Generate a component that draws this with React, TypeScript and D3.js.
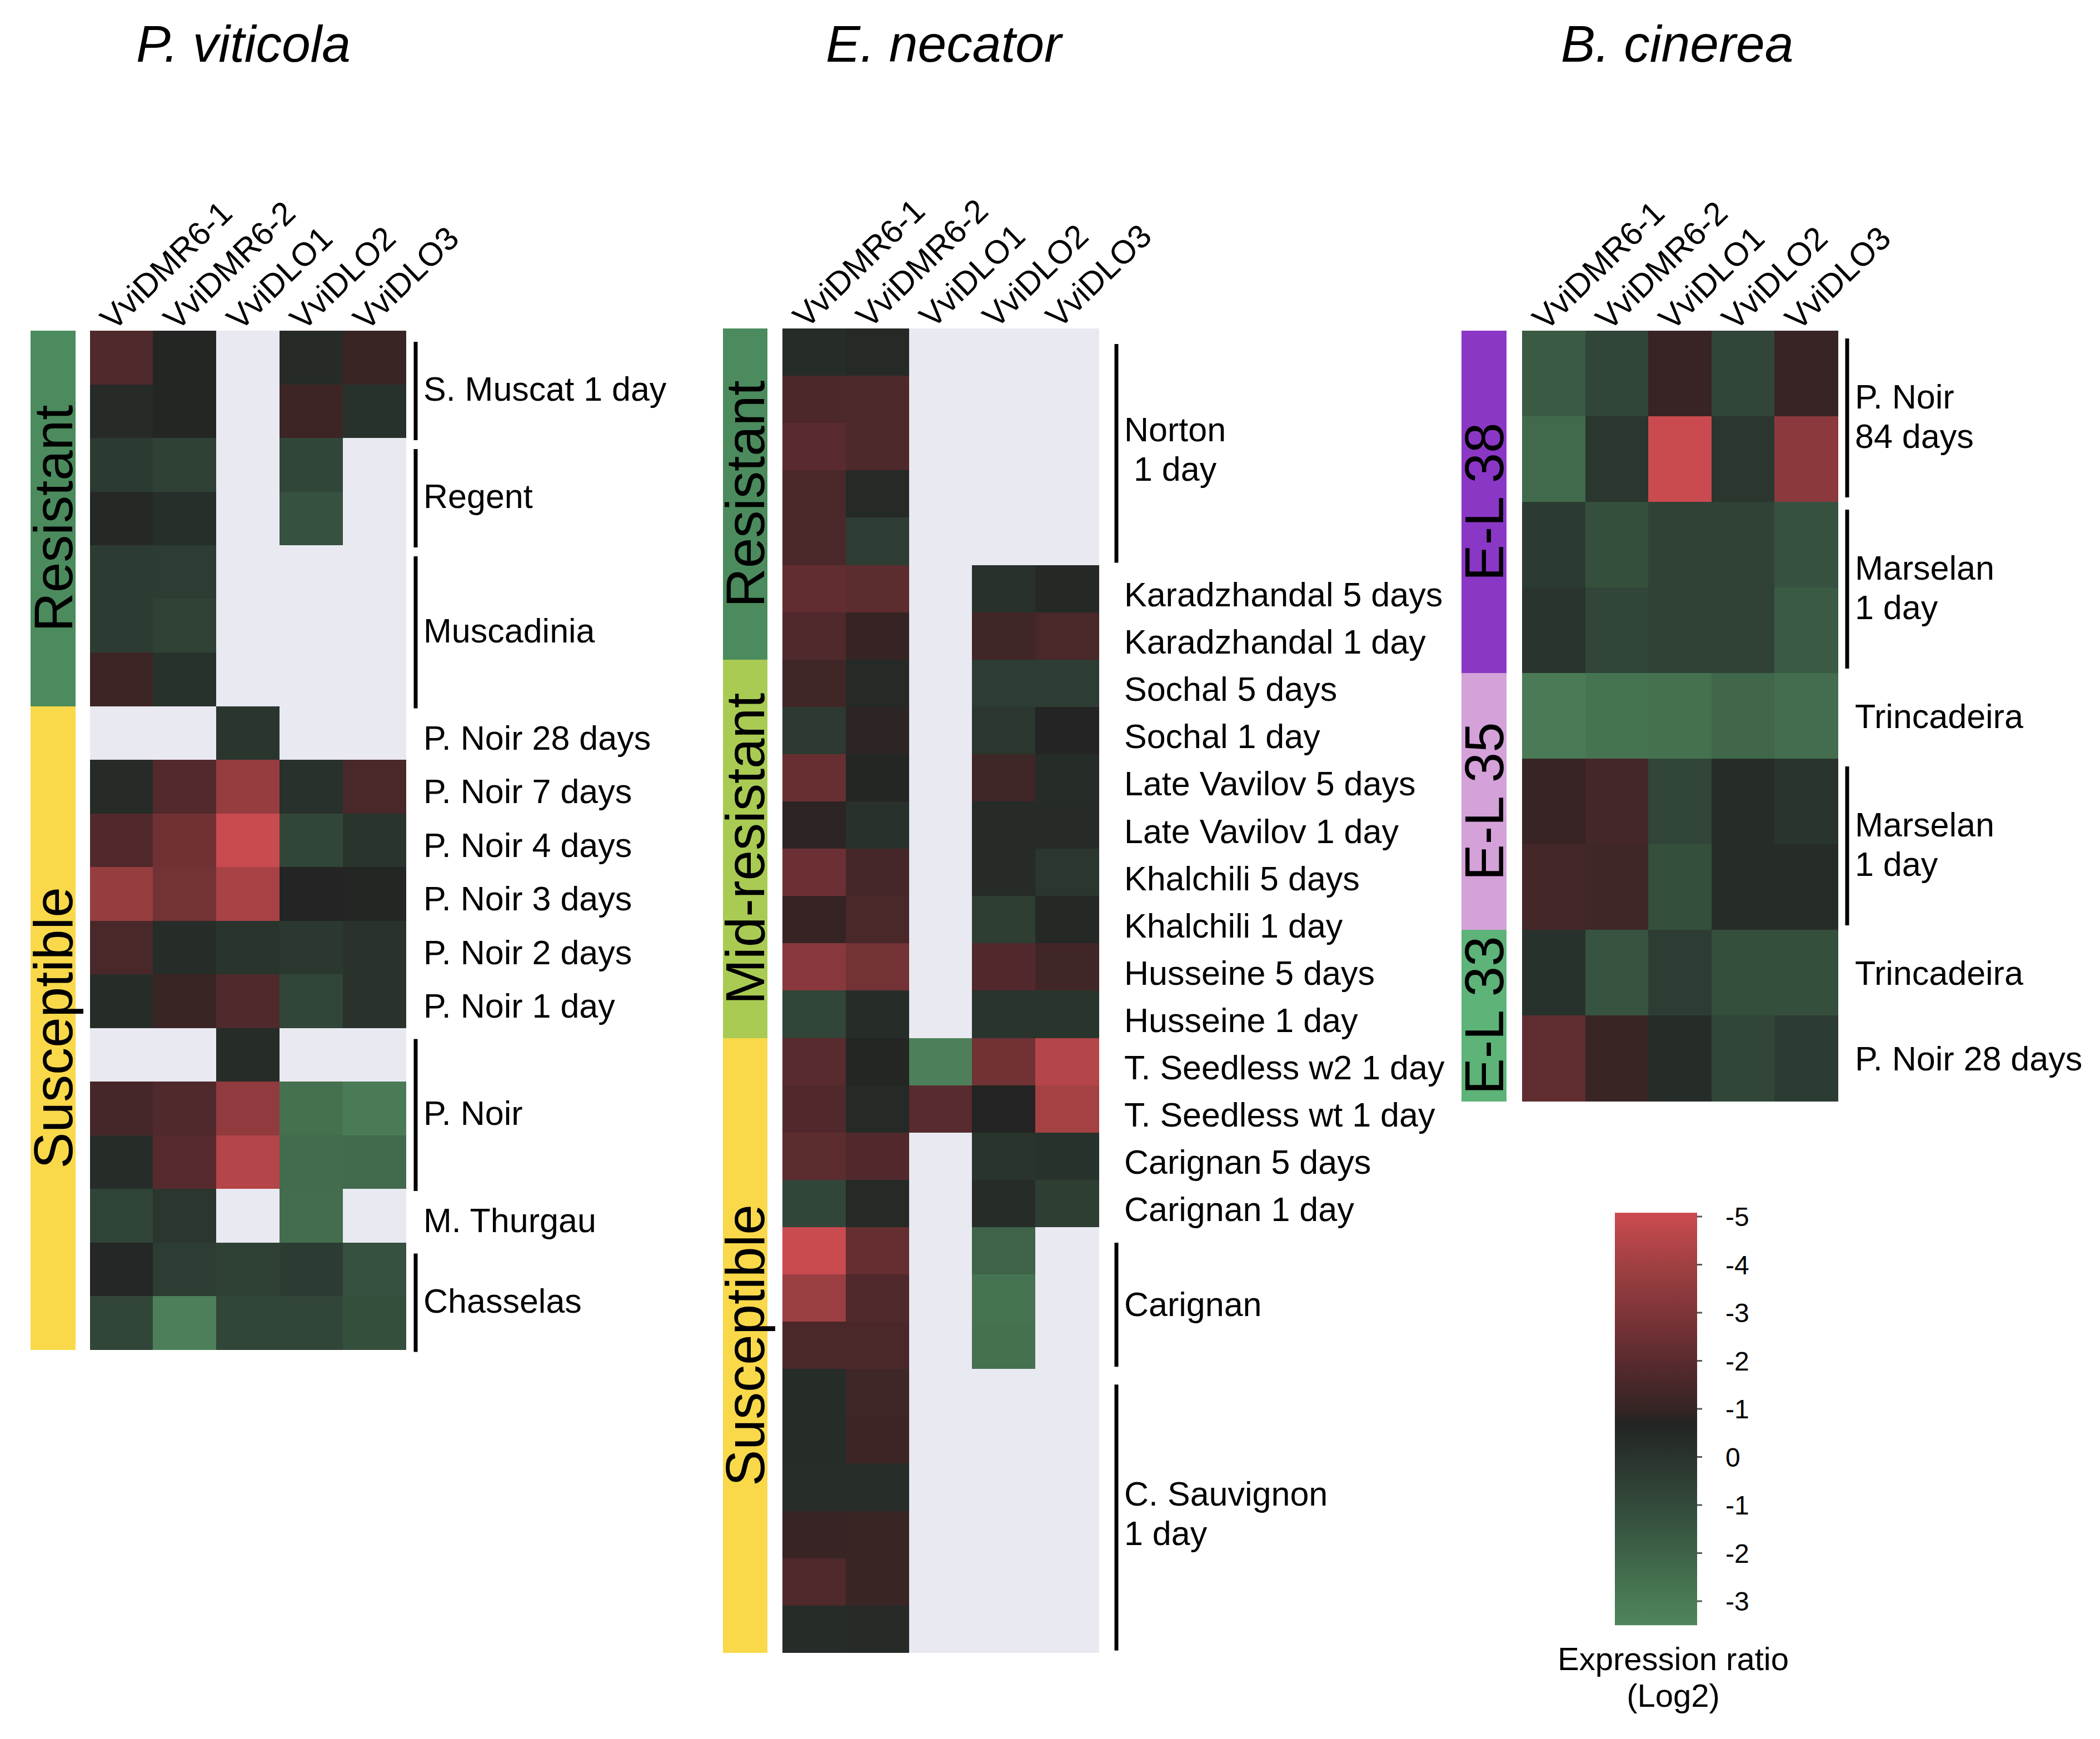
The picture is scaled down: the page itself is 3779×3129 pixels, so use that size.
import React from "react";
import * as d3 from "d3";

// ---------------- DATA ----------------
const genes = ["VviDMR6-1", "VviDMR6-2", "VviDLO1", "VviDLO2", "VviDLO3"];

// P. viticola (19 rows)
const pvDMR61 = [1.7, 0.4, -0.3, 0.5, -0.35, -0.35, 1.2, null, 0.4, 1.75, 3.7, 1.5, 0.3, null, 1.45, 0.3, -0.7, 0.55, -0.8];
const pvDMR62 = [0.6, 0.6, -0.6, 0.2, -0.4, -0.65, 0.1, null, 1.8, 2.6, 2.7, 0.35, 1.1, null, 1.7, 1.9, -0.1, -0.4, -3.3];
const pvDLO1 = [null, null, null, null, null, null, null, -0.05, 3.7, 5, 4.2, 0, 1.7, 0.35, 3.55, 4.5, null, -0.6, -0.75];
const pvDLO2 = [0.4, 1.2, -0.8, -1.3, null, null, null, null, 0.15, -0.8, 0.7, -0.2, -0.75, null, -2.6, -2.4, -2.45, -0.35, -0.75];
const pvDLO3 = [1.1, 0.1, null, null, null, null, null, null, 1.5, 0, 0.6, 0.05, 0.05, null, -3, -2.3, null, -1.3, -1.2];
const pvGroupNames = ["Resistant", "Susceptible"];
const pvGroupSizes = [7, 12];
const pvLabels = [
  { lines: ["S. Muscat 1 day"], from: 0, to: 1, bracket: true },
  { lines: ["Regent"], from: 2, to: 3, bracket: true },
  { lines: ["Muscadinia"], from: 4, to: 6, bracket: true },
  { lines: ["P. Noir 28 days"], from: 7, to: 7, bracket: false },
  { lines: ["P. Noir 7 days"], from: 8, to: 8, bracket: false },
  { lines: ["P. Noir 4 days"], from: 9, to: 9, bracket: false },
  { lines: ["P. Noir 3 days"], from: 10, to: 10, bracket: false },
  { lines: ["P. Noir 2 days"], from: 11, to: 11, bracket: false },
  { lines: ["P. Noir 1 day"], from: 12, to: 12, bracket: false },
  { lines: ["P. Noir"], from: 13, to: 15, bracket: true },
  { lines: ["M. Thurgau"], from: 16, to: 16, bracket: false },
  { lines: ["Chasselas"], from: 17, to: 18, bracket: true },
];

// E. necator (28 rows)
const enDMR61 = [0.3, 1.6, 2.0, 1.55, 1.55, 2.2, 1.7, 1.3, -0.25, 2.35, 0.85, 2.5, 1.0, 3.3, -0.75, 1.95, 1.75, 2.05, -0.8, 5, 3.85, 1.55, 0.3, 0.3, 0.25, 1.05, 1.7, 0.35];
const enDMR62 = [0.45, 1.65, 1.65, 0.45, -0.4, 2.05, 1.0, 0.45, 0.85, 0.6, 0.15, 1.45, 1.5, 2.7, 0.3, 0.6, 0.45, 1.75, 0.45, 2.3, 1.7, 1.55, 1.25, 1.2, 0.25, 1.1, 1.1, 0.4];
const enDLO1 = [null, null, null, null, null, null, null, null, null, null, null, null, null, null, null, -3.3, 1.95, null, null, null, null, null, null, null, null, null, null, null];
const enDLO2 = [null, null, null, null, null, 0.15, 1.3, -0.4, -0.1, 1.25, 0.4, 0.4, -0.45, 1.75, 0, 2.65, 0.7, 0, 0.3, -2.05, -2.7, -2.6, null, null, null, null, null, null];
const enDLO3 = [null, null, null, null, null, 0.5, 1.5, -0.4, 0.7, 0.35, 0.4, -0.1, 0.5, 1.3, 0, 4.5, 4.1, 0.1, -0.45, null, null, null, null, null, null, null, null, null];
const enGroupNames = ["Resistant", "Mid-resistant", "Susceptible"];
const enGroupSizes = [7, 8, 13];
const enLabels = [
  { lines: ["Norton", " 1 day"], from: 0, to: 4, bracket: true },
  { lines: ["Karadzhandal 5 days"], from: 5, to: 5, bracket: false },
  { lines: ["Karadzhandal 1 day"], from: 6, to: 6, bracket: false },
  { lines: ["Sochal 5 days"], from: 7, to: 7, bracket: false },
  { lines: ["Sochal 1 day"], from: 8, to: 8, bracket: false },
  { lines: ["Late Vavilov 5 days"], from: 9, to: 9, bracket: false },
  { lines: ["Late Vavilov 1 day"], from: 10, to: 10, bracket: false },
  { lines: ["Khalchili 5 days"], from: 11, to: 11, bracket: false },
  { lines: ["Khalchili 1 day"], from: 12, to: 12, bracket: false },
  { lines: ["Husseine 5 days"], from: 13, to: 13, bracket: false },
  { lines: ["Husseine 1 day"], from: 14, to: 14, bracket: false },
  { lines: ["T. Seedless w2 1 day"], from: 15, to: 15, bracket: false },
  { lines: ["T. Seedless wt 1 day"], from: 16, to: 16, bracket: false },
  { lines: ["Carignan 5 days"], from: 17, to: 17, bracket: false },
  { lines: ["Carignan 1 day"], from: 18, to: 18, bracket: false },
  { lines: ["Carignan"], from: 19, to: 21, bracket: true },
  { lines: ["C. Sauvignon", "1 day"], from: 22, to: 27, bracket: true },
];

// B. cinerea (9 rows)
const bcDMR61 = [-1.65, -2.3, -0.3, 0, -3, 1.05, 1.4, 0.1, 2.15];
const bcDMR62 = [-0.75, -0.1, -1.2, -0.75, -2.7, 1.4, 1.25, -1.4, 1.1];
const bcDLO1 = [1.05, 5, -0.65, -0.65, -2.6, -0.8, -1.2, -0.4, 0.35];
const bcDLO2 = [-0.75, -0.1, -0.65, -0.65, -2.2, 0.3, 0.3, -1.2, -0.8];
const bcDLO3 = [1.05, 3.4, -1.3, -1.65, -2.45, 0, 0.3, -1.2, -0.35];
const bcGroupNames = ["E-L 38", "E-L 35", "E-L 33"];
const bcGroupSizes = [4, 3, 2];
const bcLabels = [
  { lines: ["P. Noir", "84 days"], from: 0, to: 1, bracket: true },
  { lines: ["Marselan", "1 day"], from: 2, to: 3, bracket: true },
  { lines: ["Trincadeira"], from: 4, to: 4, bracket: false },
  { lines: ["Marselan", "1 day"], from: 5, to: 6, bracket: true },
  { lines: ["Trincadeira"], from: 7, to: 7, bracket: false },
  { lines: ["P. Noir 28 days"], from: 8, to: 8, bracket: false },
];

// Legend
const legendTickValues = [5, 4, 3, 2, 1, 0, -1, -2, -3];
const legendTickLabels = ["-5", "-4", "-3", "-2", "-1", "0", "-1", "-2", "-3"];
const legendTitle = ["Expression ratio", "(Log2)"];

// colour scale stops (value -> colour)
const colorStops = [5.08, 4, 3, 2, 1, 0.7, 0, -1, -2, -3, -3.5];
const colorRange = ["#CC4B50", "#A04042", "#7E3539", "#5A2B2E", "#362424", "#232423", "#29342D", "#334A3B", "#3D6247", "#4A7B56", "#4F845C"];

// ---------------- STYLE ----------------
const FONT = "'Liberation Sans', Arial, Helvetica, sans-serif";
const MISSING = "#E9E9F1";
const groupColors: Record<string, string> = {
  "Resistant": "#4B8B5D",
  "Susceptible": "#F9D84A",
  "Mid-resistant": "#A9CB53",
  "E-L 38": "#8B37C5",
  "E-L 35": "#D4A1D9",
  "E-L 33": "#5DB378",
};

const color = d3
  .scaleLinear<string>()
  .domain(colorStops)
  .range(colorRange)
  .interpolate(d3.interpolateRgb)
  .clamp(true);

type Label = { lines: string[]; from: number; to: number; bracket: boolean };

type PanelProps = {
  title: string;
  titleX: number;
  columns: (number | null)[][];
  groupNames: string[];
  groupSizes: number[];
  labels: Label[];
  x0: number;
  top: number;
  rowH: number;
  colW: number;
  barX: number;
  barW: number;
  bracketX: number;
  inset: [number, number];
  labelDy: number;
  multiDy: number;
};

const ROW_FS = 61;
const LINE_GAP = 71;

function Panel(p: PanelProps) {
  const nRows = p.columns[0].length;
  const xs = d3.scaleBand<string>().domain(genes).range([p.x0, p.x0 + genes.length * p.colW]);
  const ys = d3.scaleBand<number>().domain(d3.range(nRows)).range([p.top, p.top + nRows * p.rowH]);
  const bw = xs.bandwidth();
  const bh = ys.bandwidth();
  const starts = d3.cumsum([0, ...p.groupSizes]);

  return (
    <g>
      <text
        x={p.titleX}
        y={111}
        textAnchor="middle"
        fontFamily={FONT}
        fontStyle="italic"
        fontSize={93}
      >
        {p.title}
      </text>
      {/* column headers */}
      {genes.map((g) => {
        const cx = (xs(g) as number) + bw / 2;
        const ax = cx - 14;
        const ay = p.top + 2;
        return (
          <text
            key={g}
            x={ax}
            y={ay}
            transform={`rotate(-44 ${ax} ${ay})`}
            fontFamily={FONT}
            fontSize={59}
          >
            {g}
          </text>
        );
      })}
      {/* cells */}
      {p.columns.map((col, j) =>
        col.map((v, i) => (
          <rect
            key={`${j}-${i}`}
            x={xs(genes[j]) as number}
            y={ys(i) as number}
            width={bw + 0.6}
            height={bh + 0.6}
            fill={v == null ? MISSING : color(v)}
            shapeRendering="crispEdges"
          />
        ))
      )}
      {/* group side bar */}
      {p.groupNames.map((name, k) => {
        const y0 = ys(starts[k]) as number;
        const h = p.groupSizes[k] * bh;
        const cy = y0 + h / 2;
        const tx = p.barX + p.barW - 6;
        return (
          <g key={name}>
            <rect x={p.barX} y={y0} width={p.barW} height={h + 0.5} fill={groupColors[name]} shapeRendering="crispEdges" />
            <text
              x={tx}
              y={cy}
              transform={`rotate(-90 ${tx} ${cy})`}
              textAnchor="middle"
              fontFamily={FONT}
              fontSize={98}
            >
              {name}
            </text>
          </g>
        );
      })}
      {/* row labels and brackets */}
      {p.labels.map((lab, k) => {
        const y0 = ys(lab.from) as number;
        const y1 = (ys(lab.to) as number) + bh;
        const n = lab.lines.length;
        const cy = (y0 + y1) / 2 + (n > 1 ? p.multiDy : p.labelDy);
        const firstBase = cy - ((n - 1) * LINE_GAP) / 2 + 0.36 * ROW_FS;
        return (
          <g key={k}>
            {lab.bracket && (
              <line
                x1={p.bracketX}
                x2={p.bracketX}
                y1={y0 + p.inset[0]}
                y2={y1 + p.inset[1]}
                stroke="#000"
                strokeWidth={7}
              />
            )}
            <text fontFamily={FONT} fontSize={ROW_FS} style={{ whiteSpace: "pre" }}>
              {lab.lines.map((line, m) => (
                <tspan key={m} x={p.bracketX + 14} y={firstBase + m * LINE_GAP}>
                  {line}
                </tspan>
              ))}
            </text>
          </g>
        );
      })}
    </g>
  );
}

function Legend() {
  const x0 = 2906;
  const w = 148;
  const y = d3.scaleLinear().domain([5, -3]).range([2189, 2881]);
  const yTop = y(5.08);
  const yBot = y(-3.5);
  const gradStops = colorStops.map((v, i) => ({
    offset: (y(v) - yTop) / (yBot - yTop),
    color: colorRange[i],
  }));
  return (
    <g>
      <defs>
        <linearGradient id="legendGrad" x1="0" y1="0" x2="0" y2="1">
          {gradStops.map((s, i) => (
            <stop key={i} offset={s.offset} stopColor={s.color} />
          ))}
        </linearGradient>
      </defs>
      <rect x={x0} y={yTop} width={w} height={yBot - yTop} fill="url(#legendGrad)" />
      {legendTickValues.map((v, i) => (
        <g key={i}>
          <line x1={x0 + w} x2={x0 + w + 9} y1={y(v)} y2={y(v)} stroke="#555" strokeWidth={3} />
          <text x={3105} y={y(v) + 17} fontFamily={FONT} fontSize={48}>
            {legendTickLabels[i]}
          </text>
        </g>
      ))}
      {legendTitle.map((t, i) => (
        <text key={t} x={3011} y={3005 + i * 66} textAnchor="middle" fontFamily={FONT} fontSize={58}>
          {t}
        </text>
      ))}
    </g>
  );
}

export default function App() {
  return (
    <div style={{ position: "absolute", left: 0, top: 0 }}>
      <svg width={3779} height={3129} viewBox="0 0 3779 3129" style={{ display: "block", background: "#fff" }}>
        <rect width={3779} height={3129} fill="#fff" />
        <Panel
          title="P. viticola"
          titleX={438}
          columns={[pvDMR61, pvDMR62, pvDLO1, pvDLO2, pvDLO3]}
          groupNames={pvGroupNames}
          groupSizes={pvGroupSizes}
          labels={pvLabels}
          x0={161.5}
          top={595}
          rowH={96.5}
          colW={113.8}
          barX={55}
          barW={81}
          bracketX={748}
          inset={[20, 4]}
          labelDy={8}
          multiDy={8}
        />
        <Panel
          title="E. necator"
          titleX={1698}
          columns={[enDMR61, enDMR62, enDLO1, enDLO2, enDLO3]}
          groupNames={enGroupNames}
          groupSizes={enGroupSizes}
          labels={enLabels}
          x0={1408}
          top={591}
          rowH={85.1}
          colW={113.8}
          barX={1301}
          barW={80}
          bracketX={2009}
          inset={[28, -4]}
          labelDy={10}
          multiDy={4}
        />
        <Panel
          title="B. cinerea"
          titleX={3018}
          columns={[bcDMR61, bcDMR62, bcDLO1, bcDLO2, bcDLO3]}
          groupNames={bcGroupNames}
          groupSizes={bcGroupSizes}
          labels={bcLabels}
          x0={2739}
          top={595}
          rowH={154}
          colW={113.6}
          barX={2630}
          barW={81}
          bracketX={3324}
          inset={[14, -8]}
          labelDy={0}
          multiDy={0}
        />
        <Legend />
      </svg>
    </div>
  );
}
